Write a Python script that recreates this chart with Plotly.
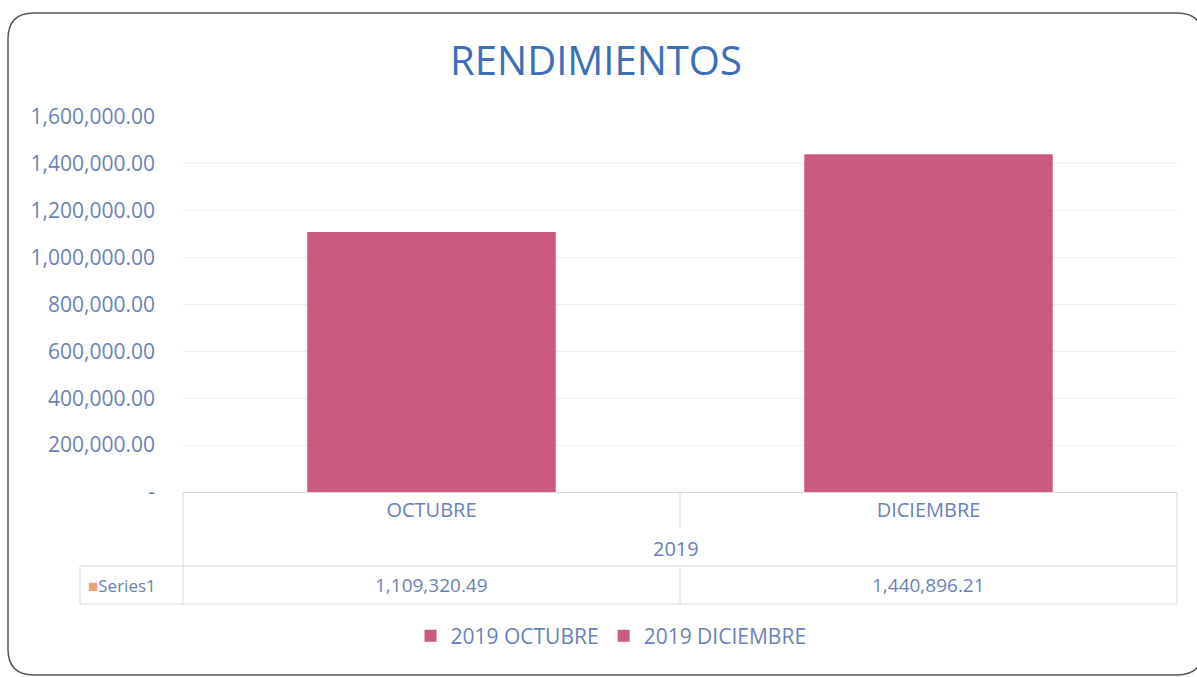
import plotly.graph_objects as go

# ---- data ----
categories = ["OCTUBRE", "DICIEMBRE"]
year_label = "2019"
values = [1109320.49, 1440896.21]
series_name = "Series1"
legend_names = ["2019 OCTUBRE", "2019 DICIEMBRE"]
y_ticks = [0, 200000, 400000, 600000, 800000, 1000000, 1200000, 1400000, 1600000]
title_text = "RENDIMIENTOS"

BAR = "#CB5A82"
TXT = "#6A82B8"
GRID = "#EFEFEF"
LINE = "#DADADA"
FONT = "Open Sans, Lato, sans-serif"

W, H = 1197, 677
L, R, T, B = 183, 20, 117, 185
PW = W - L - R
PH = H - T - B


def px(x):
    return (x - L) / PW


def py(y):
    return (H - B - y) / PH


fig = go.Figure()
for cat, val, nm in zip(categories, values, legend_names):
    fig.add_trace(go.Bar(
        x=[cat], y=[val], name=nm, width=0.5,
        marker=dict(color=BAR, line=dict(width=0)),
        hovertemplate="%{x}: %{y:,.2f}<extra></extra>",
    ))

tick_text = ["-" if v == 0 else f"{v:,.2f}" for v in y_ticks]

shapes = []
# rounded outer border
x0, y0, x1, y1, r = px(8), py(13), px(1203), py(675), 26
rx, ry = r / PW, r / PH
path = (f"M {x0+rx},{y0} L {x1-rx},{y0} Q {x1},{y0} {x1},{y0-ry} "
        f"L {x1},{y1+ry} Q {x1},{y1} {x1-rx},{y1} L {x0+rx},{y1} "
        f"Q {x0},{y1} {x0},{y1+ry} L {x0},{y0-ry} Q {x0},{y0} {x0+rx},{y0} Z")
shapes.append(dict(type="path", path=path, xref="paper", yref="paper",
                   line=dict(color="#555555", width=1.5), layer="below"))


def hline(xa, xb, y):
    shapes.append(dict(type="line", xref="paper", yref="paper",
                       x0=px(xa), x1=px(xb), y0=py(y), y1=py(y),
                       line=dict(color=LINE, width=1)))


def vline(x, ya, yb):
    shapes.append(dict(type="line", xref="paper", yref="paper",
                       x0=px(x), x1=px(x), y0=py(ya), y1=py(yb),
                       line=dict(color=LINE, width=1)))


# data table grid
hline(80, 1177, 566)
hline(80, 1177, 604)
vline(183, 492, 604)
vline(1177, 492, 604)
vline(80, 566, 604)
vline(680, 566, 604)
vline(680, 492, 528)

annotations = [
    dict(text=year_label, x=px(676), y=py(548), xref="paper", yref="paper",
         xanchor="center", yanchor="middle",
         showarrow=False, font=dict(size=20, color=TXT, family=FONT)),
    dict(text=f"<span style='color:#F2A07E;font-size:17px'>■</span>{series_name}",
         x=px(86), y=py(585), xref="paper", yref="paper", xanchor="left",
         yanchor="middle",
         showarrow=False, font=dict(size=17, color=TXT, family=FONT)),
]
for cat, val in zip(categories, values):
    annotations.append(dict(text=f"{val:,.2f}", x=cat, y=py(585), xref="x",
                            yref="paper", xanchor="center", yanchor="middle",
                            showarrow=False,
                            font=dict(size=19, color=TXT, family=FONT)))

fig.update_layout(
    width=W, height=H,
    margin=dict(l=L, r=R, t=T, b=B, autoexpand=False),
    paper_bgcolor="white", plot_bgcolor="white",
    barmode="overlay",
    title=dict(text=title_text, x=px(596), xref="paper", xanchor="center",
               y=1 - 61 / H, yanchor="middle",
               font=dict(size=40, color="#3D6FB6", family=FONT)),
    font=dict(family=FONT, color=TXT, size=20),
    showlegend=True,
    legend=dict(orientation="h", x=px(611), xanchor="center", y=py(636),
                yanchor="middle", font=dict(size=21, color=TXT, family=FONT),
                itemwidth=30, traceorder="normal", bgcolor="rgba(0,0,0,0)"),
    xaxis=dict(type="category", categoryorder="array", categoryarray=categories,
               showgrid=False, showline=True, linecolor=LINE, linewidth=1,
               ticks="", tickfont=dict(size=20, color=TXT, family=FONT),
               fixedrange=True),
    yaxis=dict(range=[0, 1600000], tickvals=y_ticks, ticktext=tick_text,
               showgrid=True, gridcolor=GRID, gridwidth=1, zeroline=False,
               showline=False, ticks="", ticklabelstandoff=27,
               tickfont=dict(size=21, color=TXT, family=FONT), fixedrange=True),
    shapes=shapes,
    annotations=annotations,
)

fig.write_html(
    "out.html",
    config={"displayModeBar": False},
    post_script="document.body.style.margin='0';document.body.style.padding='0';",
)
